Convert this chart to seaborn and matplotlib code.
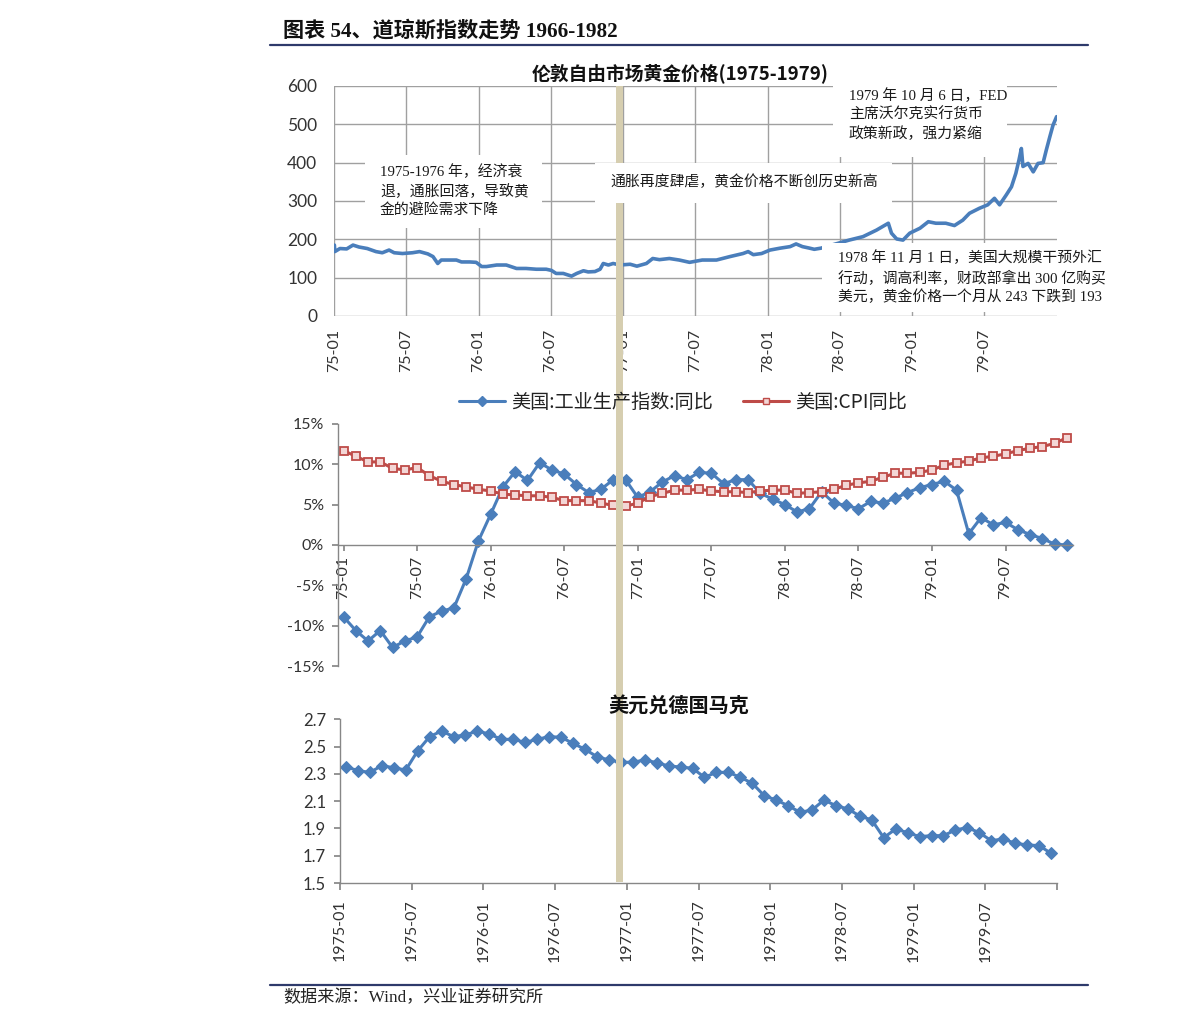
import matplotlib
matplotlib.use("Agg")
import matplotlib.pyplot as plt
import seaborn as sns
import pandas as pd
from matplotlib.patches import Rectangle
from matplotlib.lines import Line2D

# ---------------- data ----------------
gold_dates = [
    "1975-01-02", "1975-01-03", "1975-01-16", "1975-02-02", "1975-02-18", "1975-03-05",
    "1975-03-26", "1975-04-17", "1975-05-03", "1975-05-20", "1975-06-02", "1975-06-23",
    "1975-07-18", "1975-08-05", "1975-08-26", "1975-09-08", "1975-09-20", "1975-09-29",
    "1975-10-20", "1975-11-06", "1975-11-19", "1975-12-10", "1975-12-26", "1976-01-09",
    "1976-01-21", "1976-02-16", "1976-03-11", "1976-04-06", "1976-04-30", "1976-05-26",
    "1976-06-20", "1976-07-03", "1976-07-15", "1976-08-02", "1976-08-23", "1976-09-05",
    "1976-09-22", "1976-10-04", "1976-10-21", "1976-11-03", "1976-11-11", "1976-11-24",
    "1976-12-06", "1976-12-23", "1977-01-18", "1977-02-04", "1977-02-28", "1977-03-16",
    "1977-04-02", "1977-04-27", "1977-05-22", "1977-06-17", "1977-07-19", "1977-08-24",
    "1977-09-27", "1977-10-30", "1977-11-12", "1977-11-25", "1977-12-16", "1978-01-06",
    "1978-02-01", "1978-02-26", "1978-03-13", "1978-03-29", "1978-04-16", "1978-04-28",
    "1978-05-15", "1978-07-25", "1978-08-29", "1978-10-02", "1978-11-01", "1978-11-09",
    "1978-11-22", "1978-12-08", "1978-12-25", "1979-01-20", "1979-02-10", "1979-03-01",
    "1979-03-26", "1979-04-17", "1979-05-08", "1979-05-25", "1979-06-19", "1979-07-10",
    "1979-07-27", "1979-08-09", "1979-08-26", "1979-09-08", "1979-09-19", "1979-09-27",
    "1979-10-03", "1979-10-07", "1979-10-20", "1979-11-02", "1979-11-14", "1979-11-27",
    "1979-12-05", "1979-12-14", "1979-12-22", "1979-12-31",
]
gold_price = [
    185, 168, 176, 175, 185, 180, 176, 168, 165, 172, 165, 163,
    165, 168, 162, 155, 137, 146, 146, 146, 141, 141, 140, 129,
    129, 133, 133, 124, 124, 122, 122, 119, 111, 111, 104, 111,
    118, 115, 116, 122, 137, 133, 137, 133, 135, 130, 137, 150,
    147, 150, 146, 140, 146, 146, 155, 163, 168, 160, 163, 172,
    177, 181, 188, 181, 177, 174, 177, 198, 207, 224, 242, 216,
    201, 198, 216, 229, 246, 242, 242, 236, 250, 268, 281, 290,
    307, 290, 316, 337, 372, 407, 437, 390, 398, 376, 398, 400,
    433, 468, 498, 520,
]
gold_ticks = ["75-01", "75-07", "76-01", "76-07", "77-01", "77-07", "78-01", "78-07", "79-01", "79-07"]

months = pd.date_range("1975-01-01", "1979-12-01", freq="MS")
ip_yoy = [
    -8.9, -10.6, -11.9, -10.6, -12.7, -11.9, -11.4, -8.9, -8.2, -7.8,
    -4.2, 0.5, 3.8, 7.2, 9.1, 8.0, 10.2, 9.3, 8.8, 7.5,
    6.5, 6.9, 8.1, 8.1, 5.9, 6.6, 7.8, 8.6, 8.1, 9.0,
    8.9, 7.6, 8.1, 8.1, 6.4, 5.7, 5.0, 4.1, 4.5, 6.6,
    5.2, 4.9, 4.5, 5.4, 5.2, 5.8, 6.5, 7.1, 7.5, 7.9,
    6.8, 1.4, 3.4, 2.5, 2.8, 1.9, 1.3, 0.8, 0.1, 0.0,
]
cpi_yoy = [
    11.7, 11.0, 10.3, 10.3, 9.5, 9.3, 9.6, 8.6, 7.9, 7.5,
    7.2, 6.9, 6.7, 6.3, 6.2, 6.1, 6.1, 5.9, 5.5, 5.5,
    5.5, 5.2, 4.9, 4.8, 5.2, 6.0, 6.4, 6.8, 6.8, 6.9,
    6.7, 6.6, 6.6, 6.5, 6.7, 6.8, 6.8, 6.4, 6.5, 6.6,
    6.9, 7.4, 7.7, 7.9, 8.4, 8.9, 8.9, 9.0, 9.3, 9.9,
    10.2, 10.4, 10.8, 11.0, 11.3, 11.7, 12.0, 12.2, 12.6, 13.3,
]
mid_ticks = ["75-01", "75-07", "76-01", "76-07", "77-01", "77-07", "78-01", "78-07", "79-01", "79-07"]

usd_dem = [
    2.353, 2.323, 2.311, 2.360, 2.345, 2.328, 2.468, 2.573, 2.614, 2.573,
    2.585, 2.614, 2.592, 2.553, 2.553, 2.531, 2.553, 2.573, 2.568, 2.524,
    2.480, 2.426, 2.402, 2.385, 2.385, 2.402, 2.382, 2.358, 2.350, 2.341,
    2.275, 2.311, 2.311, 2.275, 2.231, 2.140, 2.108, 2.067, 2.018, 2.035,
    2.108, 2.067, 2.043, 1.991, 1.962, 1.832, 1.896, 1.869, 1.840, 1.847,
    1.847, 1.889, 1.906, 1.869, 1.810, 1.823, 1.791, 1.779, 1.774, 1.718,
]
fx_ticks = ["1975-01", "1975-07", "1976-01", "1976-07", "1977-01", "1977-07",
            "1978-01", "1978-07", "1979-01", "1979-07"]

# ---------------- style ----------------
sns.set_theme(style="white")
plt.rcParams["font.family"] = ["Noto Sans CJK SC", "DejaVu Sans"]
plt.rcParams["axes.unicode_minus"] = False

W, H = 1191, 1029
fig = plt.figure(figsize=(W / 100, H / 100), dpi=100)

BLUE = "#4A7EBB"
RED = "#BE4B48"
GRID = "#A0A0A0"
AXC = "#878787"
TXT = "#333333"
NUM = ["Lato", "Noto Sans CJK SC"]
SERIF = ["Liberation Serif", "Noto Sans CJK SC"]


def ax_px(l, t, r, b):
    return fig.add_axes([l / W, 1 - b / H, (r - l) / W, (b - t) / H])


def fx(x):
    return x / W


def fy(y):
    return 1 - y / H


# ---------------- header / footer ----------------
fig.text(fx(283), fy(31), "图表 54、道琼斯指数走势 1966-1982", family=SERIF,
         fontsize=15.2, fontweight="bold", va="center", ha="left", color="#111111")
fig.add_artist(Line2D([fx(270), fx(1088)], [fy(44.5), fy(44.5)], color="#2E3A6B", lw=1.6))
fig.add_artist(Line2D([fx(270), fx(1088)], [fy(985), fy(985)], color="#2E3A6B", lw=1.6))
fig.text(fx(283), fy(998), "数据来源：Wind，兴业证券研究所", family=SERIF,
         fontsize=12.3, va="center", ha="left", color="#222222")

# ---------------- top: gold ----------------
ax1 = ax_px(334, 86, 1057, 316)
gdf = pd.DataFrame({"date": pd.to_datetime(gold_dates), "price": gold_price})
sns.lineplot(data=gdf, x="date", y="price", ax=ax1, color=BLUE, lw=2.6, estimator=None)
ax1.set_ylim(0, 600)
ax1.set_yticks(range(0, 601, 100))
tick_dates = pd.date_range("1975-01-01", periods=10, freq="6MS")
ax1.set_xlim(pd.Timestamp("1975-01-01"), pd.Timestamp("1980-01-01"))
ax1.set_xticks(tick_dates)
ax1.set_xticklabels(gold_ticks, rotation=90)
ax1.grid(True, color=GRID, lw=1)
for s in ax1.spines.values():
    s.set_visible(False)
ax1.tick_params(axis="y", length=0, pad=12, labelsize=12.5, labelcolor=TXT)
ax1.tick_params(axis="x", length=0, pad=9, labelsize=11.5, labelcolor=TXT)
for lab in ax1.get_xticklabels() + ax1.get_yticklabels():
    lab.set_family(NUM)
ax1.set_xlabel("")
ax1.set_ylabel("")
fig.text(fx(680), fy(74), "伦敦自由市场黄金价格(1975-1979)", fontsize=13.5, fontweight="bold",
         ha="center", va="center", color="#111111")

# ---------------- middle: IP & CPI ----------------
ax2 = ax_px(338, 424, 1073, 666)
for k in ["top", "right"]:
    ax2.spines[k].set_visible(False)
ax2.spines["bottom"].set_position(("data", 0))
x_idx = list(range(len(months)))
mdf = pd.DataFrame({"i": x_idx, "ip": ip_yoy, "cpi": cpi_yoy})
sns.lineplot(data=mdf, x="i", y="ip", ax=ax2, color=BLUE, lw=2.2, marker="D",
             markersize=6.3, markeredgecolor=BLUE, markerfacecolor=BLUE, estimator=None)
sns.lineplot(data=mdf, x="i", y="cpi", ax=ax2, color=RED, lw=2.2, marker="s",
             markersize=5.2, markeredgecolor=RED, markerfacecolor="#F3D6D5",
             markeredgewidth=1.3, estimator=None)
ax2.set_ylim(-15, 15)
ax2.set_yticks(range(-15, 16, 5))
ax2.set_yticklabels([f"{v}%" for v in range(-15, 16, 5)])
ax2.set_xlim(-0.45, 59.5)
ax2.set_xticks(range(0, 60, 6))
ax2.set_xticklabels(mid_ticks, rotation=90)
for k in ["left", "bottom"]:
    ax2.spines[k].set_color(AXC)
    ax2.spines[k].set_linewidth(1)
ax2.tick_params(axis="y", direction="out", length=4, color=AXC, pad=6, labelsize=11.5,
                labelcolor=TXT, left=True)
ax2.tick_params(axis="x", direction="out", length=4, color=AXC, pad=4, labelsize=11.5,
                labelcolor=TXT, bottom=True, labelrotation=90)
for lab in ax2.get_xticklabels() + ax2.get_yticklabels():
    lab.set_family(NUM)
ax2.set_xlabel("")
ax2.set_ylabel("")
handles = [
    Line2D([], [], color=BLUE, lw=2.2, marker="D", markersize=5, markerfacecolor=BLUE,
           markeredgecolor=BLUE),
    Line2D([], [], color=RED, lw=2.2, marker="s", markersize=4.5, markerfacecolor="#F3D6D5",
           markeredgecolor=RED),
]
fig.legend(handles, ["美国:工业生产指数:同比", "美国:CPI同比"], loc="center",
           bbox_to_anchor=(fx(683), fy(402)), ncol=2, frameon=False, fontsize=13.8,
           handlelength=2.4, handletextpad=0.3, columnspacing=1.6, labelcolor="#222222")

# ---------------- bottom: USD/DEM ----------------
ax3 = ax_px(340, 719.3, 1057, 883)
fdf = pd.DataFrame({"i": [i + 0.5 for i in range(len(usd_dem))], "v": usd_dem})
sns.lineplot(data=fdf, x="i", y="v", ax=ax3, color=BLUE, lw=2.2, marker="D",
             markersize=6.3, markeredgecolor=BLUE, markerfacecolor=BLUE, estimator=None)
ax3.set_ylim(1.5, 2.7)
ax3.set_yticks([1.5, 1.7, 1.9, 2.1, 2.3, 2.5, 2.7])
ax3.set_yticklabels(["1.5", "1.7", "1.9", "2.1", "2.3", "2.5", "2.7"])
ax3.set_xlim(0, 60)
ax3.set_xticks(list(range(0, 61, 6)))
ax3.set_xticklabels(fx_ticks + [""], rotation=90)
for k in ["top", "right"]:
    ax3.spines[k].set_visible(False)
for k in ["left", "bottom"]:
    ax3.spines[k].set_color(AXC)
    ax3.spines[k].set_linewidth(1)
ax3.tick_params(axis="y", direction="out", length=4, color=AXC, pad=6, labelsize=12,
                labelcolor=TXT, left=True)
ax3.tick_params(axis="x", direction="out", length=5, color=AXC, pad=7, labelsize=11.5,
                labelcolor=TXT, bottom=True)
for lab in ax3.get_xticklabels() + ax3.get_yticklabels():
    lab.set_family(NUM)
ax3.set_xlabel("")
ax3.set_ylabel("")
fig.text(fx(679), fy(708), "美元兑德国马克", family=SERIF, fontsize=14.5, fontweight="bold",
         ha="center", va="center", color="#111111")

# ---------------- tan event band ----------------
fig.add_artist(Rectangle((fx(616), fy(882)), (623 - 616) / W, (882 - 86) / H,
                         facecolor="#D6CEB0", edgecolor="none", zorder=3))


# ---------------- annotation boxes (top chart) ----------------
def white_box(l, t, r, b):
    fig.add_artist(Rectangle((fx(l), fy(b)), (r - l) / W, (b - t) / H,
                             facecolor="white", edgecolor="none", zorder=4))


def lines_text(x, ys, texts, size=10.7):
    for y, t in zip(ys, texts):
        fig.text(fx(x), fy(y), t, family=SERIF, fontsize=size, ha="left", va="center",
                 color="#1A1A1A", zorder=5)


white_box(365, 155, 542, 228)
lines_text(380, [172, 192, 211], ["1975-1976 年，经济衰", "退，通胀回落，导致黄", "金的避险需求下降"])

white_box(595, 163, 892, 203)
lines_text(610, [182], ["通胀再度肆虐，黄金价格不断创历史新高"])

white_box(833, 80, 1007, 157)
lines_text(849, [96, 115, 134], ["1979 年 10 月 6 日，FED", "主席沃尔克实行货币", "政策新政，强力紧缩"])

white_box(822, 243, 1112, 312)
lines_text(838, [258, 278, 297], ["1978 年 11 月 1 日，美国大规模干预外汇",
                                  "行动，调高利率，财政部拿出 300 亿购买",
                                  "美元，黄金价格一个月从 243 下跌到 193"])

fig.savefig("out.png", dpi=100)
